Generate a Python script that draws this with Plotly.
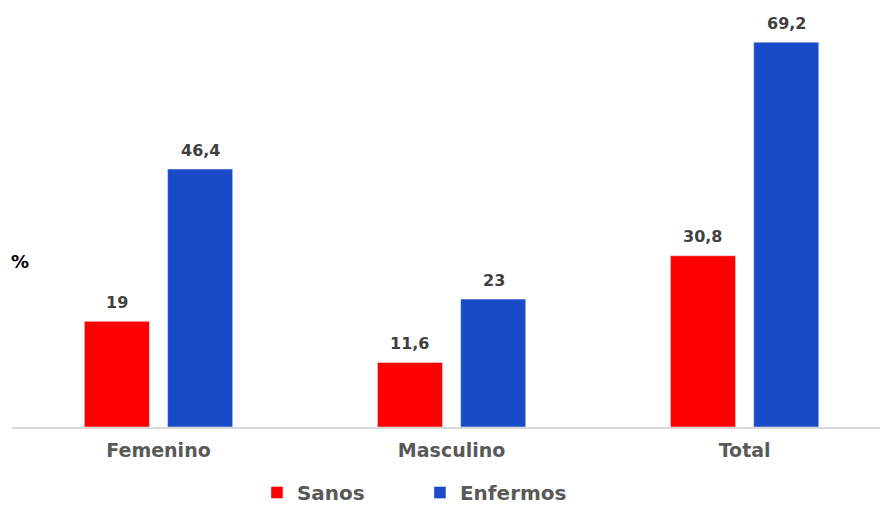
import plotly.graph_objects as go

categories = ["Femenino", "Masculino", "Total"]
sanos = [19, 11.6, 30.8]
enfermos = [46.4, 23, 69.2]
sanos_labels = ["19", "11,6", "30,8"]
enfermos_labels = ["46,4", "23", "69,2"]

FONT = "DejaVu Sans, Verdana, sans-serif"
LABEL_FONT = dict(family=FONT, size=16, color="#404040", weight="bold")

fig = go.Figure()
fig.add_trace(go.Bar(x=categories, y=sanos, name="Sanos", marker_color="#FF0000"))
fig.add_trace(go.Bar(x=categories, y=enfermos, name="Enfermos", marker_color="#1A4AC8"))

annotations = []
for vals, labels, xs in ((sanos, sanos_labels, -42), (enfermos, enfermos_labels, 42)):
    for c, v, t in zip(categories, vals, labels):
        annotations.append(dict(
            x=c, y=v, text=t, xref="x", yref="y", showarrow=False,
            xanchor="center", yanchor="middle", xshift=xs, yshift=19,
            font=LABEL_FONT,
        ))
annotations.append(dict(
    text="%", xref="paper", yref="paper", x=0.009, y=0.397,
    xanchor="center", yanchor="middle", showarrow=False,
    font=dict(family=FONT, size=18, color="#000000", weight="bold"),
))

fig.update_layout(
    width=880, height=512,
    margin=dict(l=12, r=0, t=10, b=85, autoexpand=False),
    paper_bgcolor="white", plot_bgcolor="white",
    barmode="group", bargap=0.432, bargroupgap=0.218,
    font=dict(family=FONT),
    showlegend=True,
    legend=dict(
        orientation="h", x=0.47, xanchor="center",
        yref="container", y=0.0, yanchor="bottom",
        font=dict(family=FONT, size=20, color="#595959", weight="bold"),
        entrywidth=118, entrywidthmode="pixels",
    ),
    xaxis=dict(
        range=[-0.5, 2.462], showgrid=False, showline=True,
        linecolor="#D9D9D9", linewidth=2, ticks="",
        tickfont=dict(family=FONT, size=19, color="#595959", weight="bold"),
        ticklabelstandoff=5,
    ),
    yaxis=dict(range=[0, 75], visible=False, showgrid=False),
    annotations=annotations,
)

fig.write_html("out.html")
